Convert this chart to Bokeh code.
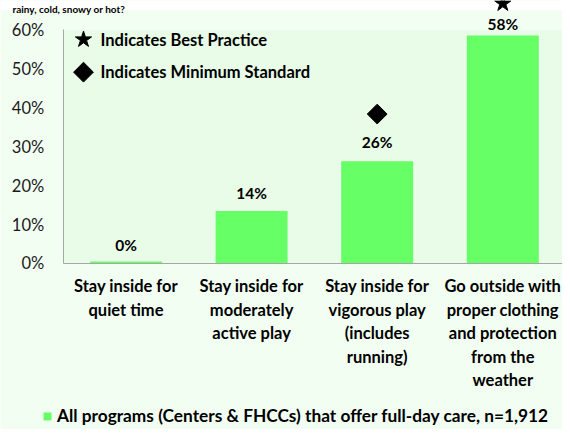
import math
from bokeh.plotting import figure
from bokeh.models import (Range1d, LinearAxis, FixedTicker, PrintfTickFormatter,
                          BoxAnnotation, Legend, LegendItem, ColumnDataSource)
from bokeh.core.properties import value
from bokeh.embed import file_html
from bokeh.resources import INLINE

# ---- data ----
title_text = "rainy, cold, snowy or hot?"
categories = [
    "Stay inside for\nquiet time",
    "Stay inside for\nmoderately\nactive play",
    "Stay inside for\nvigorous play\n(includes\nrunning)",
    "Go outside with\nproper clothing\nand protection\nfrom the\nweather",
]
values = [0.5, 13.5, 26.3, 58.6]
value_labels = ["0%", "14%", "26%", "58%"]
series_name = "All programs (Centers & FHCCs) that offer full-day care, n=1,912"
best_practice_index = 3
best_practice_level = 66.8
min_standard_index = 2
min_standard_level = 38.4
y_ticks = [0, 10, 20, 30, 40, 50, 60]
key_labels = ["Indicates Best Practice", "Indicates Minimum Standard"]

# ---- style ----
FONT = "Lato"
OUTER = "#f3fef3"
INNER = "#e8fce8"
BAR = "#66ff66"
label_offsets = [-17, -18, -19, -11]

W, H = 562, 429
xs = [i + 0.5 for i in range(len(categories))]

p = figure(width=W, height=H, output_backend="svg", toolbar_location=None,
           x_range=Range1d(-0.4992, 3.9753), y_range=Range1d(-42.66, 67.58),
           min_border=0, min_border_left=0, min_border_right=0,
           min_border_top=0, min_border_bottom=0,
           x_axis_type=None, y_axis_type=None, title=None)
p.outline_line_color = None
p.background_fill_color = OUTER
p.border_fill_color = OUTER
p.xgrid.visible = False
p.ygrid.visible = False

# white strip at the top (title area) and plot-area background
p.add_layout(BoxAnnotation(bottom=65.14, fill_color="white", fill_alpha=1,
                           line_color=None, level="underlay"))
p.add_layout(BoxAnnotation(left=0, right=len(categories), bottom=0, top=max(y_ticks),
                           fill_color=INNER, fill_alpha=1, line_color=None, level="underlay"))

# axes
yax = LinearAxis(fixed_location=0, bounds=(0, max(y_ticks)),
                 ticker=FixedTicker(ticks=y_ticks),
                 formatter=PrintfTickFormatter(format="%d%%"))
yax.axis_line_color = "#a6a6a6"
yax.major_tick_line_color = None
yax.minor_tick_line_color = None
yax.major_tick_out = 0
yax.major_tick_in = 0
yax.minor_tick_out = 0
yax.major_label_standoff = 19
yax.major_label_text_font = FONT
yax.major_label_text_font_size = "16.5px"
yax.major_label_text_color = "#1a1a1a"
p.add_layout(yax, "left")

xax = LinearAxis(fixed_location=0, bounds=(0, len(categories)),
                 ticker=FixedTicker(ticks=[]))
xax.axis_line_color = "#a6a6a6"
xax.major_tick_line_color = None
xax.minor_tick_line_color = None
xax.major_label_text_font_size = "0px"
p.add_layout(xax, "below")

src = ColumnDataSource(dict(x=xs, top=values, lab=value_labels, cat=categories,
                            off=label_offsets))
bars = p.vbar(x="x", top="top", width=0.573, source=src, fill_color=BAR, line_color=None)

# title (only a strip of it is visible in the reference)
p.text(x=[-0.4037], y=[65.45], text=[title_text], text_align="left",
       text_baseline="alphabetic", text_font=value(FONT), text_font_style="bold",
       text_font_size="10px", text_color="#000000")

# value labels
p.text(x="x", y="top", text="lab", source=src, text_align="center", text_baseline="middle",
       y_offset="off", text_font=value(FONT), text_font_style="bold",
       text_font_size="15.5px", text_color="#000000")

# category labels
p.text(x="x", y=0, text="cat", source=src, text_align="center", text_baseline="top",
       y_offset=13, text_font=value(FONT), text_font_style="bold",
       text_font_size="16.5px", text_line_height=1.173, text_color="#000000")

# markers
p.scatter(x=[xs[best_practice_index]], y=[best_practice_level], marker="star",
          size=17, fill_color="black", line_color="black")
p.scatter(x=[xs[min_standard_index]], y=[min_standard_level], marker="square",
          angle=math.pi / 4, size=14, fill_color="black", line_color="black")

# top-left key
key_x = 0.1616
key_y = [57.55, 49.16]
p.scatter(x=[key_x], y=[key_y[0]], marker="star", size=17, fill_color="black",
          line_color="black")
p.scatter(x=[key_x], y=[key_y[1]], marker="square", angle=math.pi / 4, size=14,
          fill_color="black", line_color="black")
p.text(x=[0.297, 0.297], y=key_y, text=key_labels,
       text_align="left", text_baseline="middle", text_font=value(FONT),
       text_font_style="bold", text_font_size="16.5px", text_color="#000000")

# bottom legend
legend = Legend(items=[LegendItem(label=series_name, renderers=[bars])],
                location=(42, 3), orientation="horizontal",
                glyph_width=10, glyph_height=10, label_standoff=5,
                padding=0, margin=0, border_line_color=None,
                background_fill_alpha=0,
                label_text_font=FONT, label_text_font_style="bold",
                label_text_font_size="17.3px", label_text_color="#000000")
p.add_layout(legend)

open("out.html", "w").write(file_html(p, INLINE))
